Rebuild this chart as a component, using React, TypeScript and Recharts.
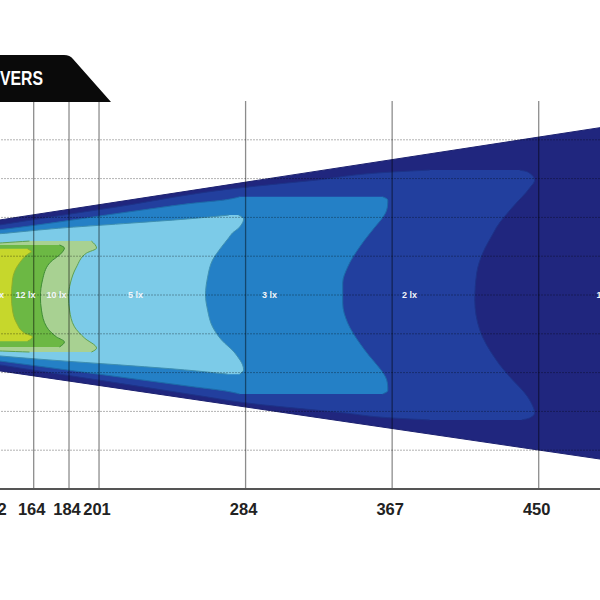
import { Area, ComposedChart, ReferenceLine, Scatter, XAxis, YAxis } from "recharts";

// distance ticks along the beam (bottom axis)
const xTicks = [142, 164, 184, 201, 284, 367, 450];
// lateral grid rows (hidden axis, one unit per dotted line)
const yGrid = [4, 3, 2, 1, 0, -1, -2, -3, -4];

// each zone: rows of lateral position y with the [near, far] distance covered
const zone1lx = [
  { y: 4.33, x: [500, 500] },
  { y: 1.79, x: [120, 500] },
  { y: -1.76, x: [120, 500] },
  { y: -4.42, x: [500, 500] },
];

const zone2lx = [
  { y: 3.22, x: [388.3, 440.4] },
  { y: 3.17, x: [367.3, 444.9] },
  { y: 3.04, x: [340.1, 447.7] },
  { y: 2.76, x: [280.6, 445.5] },
  { y: 2.63, x: [262.5, 443.8] },
  { y: 2.11, x: [188.8, 433.6] },
  { y: 1.8, x: [144.6, 427.9] },
  { y: 1.62, x: [120, 425.1] },
  { y: 0.9, x: [120, 416.6] },
  { y: 0.13, x: [120, 413.8] },
  { y: -0.57, x: [120, 414.9] },
  { y: -1.08, x: [120, 418.3] },
  { y: -1.62, x: [120, 424.6] },
  { y: -1.75, x: [137.3, 426.2] },
  { y: -2.27, x: [210.9, 435.3] },
  { y: -2.76, x: [280.6, 444.9] },
  { y: -2.96, x: [323.7, 447.7] },
  { y: -3.17, x: [367.3, 443.8] },
  { y: -3.22, x: [388.3, 439.2] },
];

const zone3lx = [
  { y: 2.55, x: [280.6, 361.6] },
  { y: 2.47, x: [272.1, 364.5] },
  { y: 2.37, x: [255.1, 364.5] },
  { y: 2.19, x: [225.4, 363.9] },
  { y: 1.7, x: [144.6, 356.5] },
  { y: 1.55, x: [120, 353.7] },
  { y: 1.24, x: [120, 348.6] },
  { y: 0.72, x: [120, 341.8] },
  { y: 0.21, x: [120, 339.0] },
  { y: -0.31, x: [120, 339.0] },
  { y: -0.72, x: [120, 341.8] },
  { y: -1.24, x: [120, 348.6] },
  { y: -1.55, x: [120, 353.7] },
  { y: -1.68, x: [144.6, 356.0] },
  { y: -2.19, x: [225.4, 363.9] },
  { y: -2.37, x: [255.1, 364.5] },
  { y: -2.45, x: [272.1, 364.5] },
  { y: -2.53, x: [280.6, 361.6] },
];

const zone5lx = [
  { y: 2.04, x: [273.8, 280.6] },
  { y: 1.93, x: [249.4, 282.9] },
  { y: 1.8, x: [212.0, 282.3] },
  { y: 1.68, x: [174.6, 280.9] },
  { y: 1.57, x: [144.6, 279.2] },
  { y: 1.47, x: [120, 277.5] },
  { y: 1.16, x: [120, 270.4] },
  { y: 0.82, x: [120, 265.3] },
  { y: 0.39, x: [120, 262.5] },
  { y: 0, x: [120, 261.3] },
  { y: -0.46, x: [120, 262.5] },
  { y: -0.9, x: [120, 265.3] },
  { y: -1.24, x: [120, 270.4] },
  { y: -1.47, x: [120, 274.4] },
  { y: -1.6, x: [150.0, 276.6] },
  { y: -1.72, x: [178.0, 280.0] },
  { y: -1.84, x: [215.0, 282.0] },
  { y: -1.96, x: [251.0, 282.9] },
  { y: -2.06, x: [274.5, 280.0] },
];

const zone10lx = [
  { y: 1.47, x: [161.6, 196.7] },
  { y: 1.37, x: [120, 199.6] },
  { y: 1.11, x: [120, 192.8] },
  { y: 0.82, x: [120, 187.1] },
  { y: 0.39, x: [120, 184.3] },
  { y: 0.05, x: [120, 183.7] },
  { y: -0.31, x: [120, 184.8] },
  { y: -0.72, x: [120, 188.2] },
  { y: -1.08, x: [120, 193.9] },
  { y: -1.21, x: [120, 199.6] },
  { y: -1.39, x: [161.6, 196.7] },
];

const zone12lx = [
  { y: 1.34, x: [144.6, 178.6] },
  { y: 1.21, x: [120, 181.4] },
  { y: 1.08, x: [120, 176.9] },
  { y: 0.82, x: [120, 171.3] },
  { y: 0.39, x: [120, 168.4] },
  { y: 0.05, x: [120, 167.8] },
  { y: -0.39, x: [120, 169.0] },
  { y: -0.82, x: [120, 172.9] },
  { y: -1.11, x: [120, 180.3] },
  { y: -1.21, x: [120, 181.4] },
  { y: -1.29, x: [144.6, 178.6] },
];

const zone15lx = [
  { y: 1.19, x: [120, 160.5] },
  { y: 1.08, x: [120, 163.3] },
  { y: 0.98, x: [120, 158.8] },
  { y: 0.72, x: [120, 154.3] },
  { y: 0.39, x: [120, 152.0] },
  { y: 0.05, x: [120, 151.4] },
  { y: -0.39, x: [120, 152.0] },
  { y: -0.82, x: [120, 155.9] },
  { y: -1.08, x: [120, 161.6] },
  { y: -1.11, x: [120, 162.7] },
  { y: -1.19, x: [120, 160.5] },
];

const zoneLabels = [
  { x: 141.5, y: 0, name: "15 lx" },
  { x: 159.3, y: 0, name: "12 lx" },
  { x: 176.9, y: 0, name: "10 lx" },
  { x: 221.7, y: 0, name: "5 lx" },
  { x: 297.6, y: 0, name: "3 lx" },
  { x: 376.9, y: 0, name: "2 lx" },
  { x: 487, y: 0, name: "1 lx" },
];

const zones = [
  { key: "1lx", data: zone1lx, fill: "#20267e", stroke: "#1c2170", curve: "linear" },
  { key: "2lx", data: zone2lx, fill: "#223f9e", stroke: "#1d3388", curve: "monotone" },
  { key: "3lx", data: zone3lx, fill: "#2480c6", stroke: "#1d6aa8", curve: "monotone" },
  { key: "5lx", data: zone5lx, fill: "#7ccbe8", stroke: "#3f8fb0", curve: "monotone" },
  { key: "10lx", data: zone10lx, fill: "#a8d192", stroke: "#5fa050", curve: "monotone" },
  { key: "12lx", data: zone12lx, fill: "#6cb844", stroke: "#3e8c35", curve: "monotone" },
  { key: "15lx", data: zone15lx, fill: "#c6d72c", stroke: "#8fae2a", curve: "monotone" },
];

const ZoneLabel = (props: any) => (
  <text
    x={props.cx}
    y={props.cy}
    textAnchor="middle"
    dominantBaseline="central"
    fill="#f2f6fa"
    fontSize={9}
    fontWeight={600}
    fontFamily="Liberation Sans, Arial, sans-serif"
  >
    {props.payload.name}
  </text>
);

export default function App() {
  return (
    <div
      style={{
        position: "fixed",
        top: 0,
        left: 0,
        width: 600,
        height: 600,
        overflow: "hidden",
        background: "#fff",
      }}
    >
      <div style={{ position: "absolute", left: -44, top: 0 }}>
        <ComposedChart
          layout="vertical"
          width={671}
          height={600}
          margin={{ top: 101, right: 0, bottom: 81, left: 0 }}
        >
          <XAxis
            type="number"
            dataKey="x"
            domain={[120, 500]}
            ticks={xTicks}
            interval={0}
            allowDataOverflow
            height={30}
            tickLine={false}
            tickMargin={8}
            axisLine={{ stroke: "#555", strokeWidth: 2 }}
            tick={{
              fill: "#222",
              fontSize: 16.5,
              fontWeight: 700,
              fontFamily: "Liberation Sans, Arial, sans-serif",
              dx: -2,
            }}
          />
          <YAxis type="number" dataKey="y" domain={[-5, 5]} allowDataOverflow hide />
          {zones.map((z) => (
            <Area
              key={z.key}
              data={z.data}
              dataKey="x"
              type={z.curve as any}
              fill={z.fill}
              fillOpacity={1}
              stroke={z.stroke}
              strokeWidth={1}
              dot={false}
              activeDot={false}
              isAnimationActive={false}
            />
          ))}
          {yGrid.map((v) => (
            <ReferenceLine
              key={`h${v}`}
              y={v}
              stroke="rgba(0,0,0,0.3)"
              strokeDasharray="2 1"
              strokeWidth={1}
            />
          ))}
          {xTicks.map((v) => (
            <ReferenceLine key={`v${v}`} x={v} stroke="rgba(0,0,0,0.45)" strokeWidth={1.3} />
          ))}
          <ReferenceLine y={5} stroke="#8c8c8c" strokeWidth={2} />
          <Scatter data={zoneLabels} shape={ZoneLabel} isAnimationActive={false} />
        </ComposedChart>
      </div>
      <svg
        width={120}
        height={104}
        style={{ position: "absolute", left: 0, top: 0 }}
      >
        <path d="M0,55 L64,55 Q70,55 73,59 L111,102 L0,102 Z" fill="#0a0a0a" />
        <text
          x={0}
          y={85}
          fill="#fff"
          fontSize={21}
          fontWeight={700}
          fontFamily="Liberation Sans, Arial, sans-serif"
          textLength={43}
          lengthAdjust="spacingAndGlyphs"
        >
          VERS
        </text>
      </svg>
    </div>
  );
}
